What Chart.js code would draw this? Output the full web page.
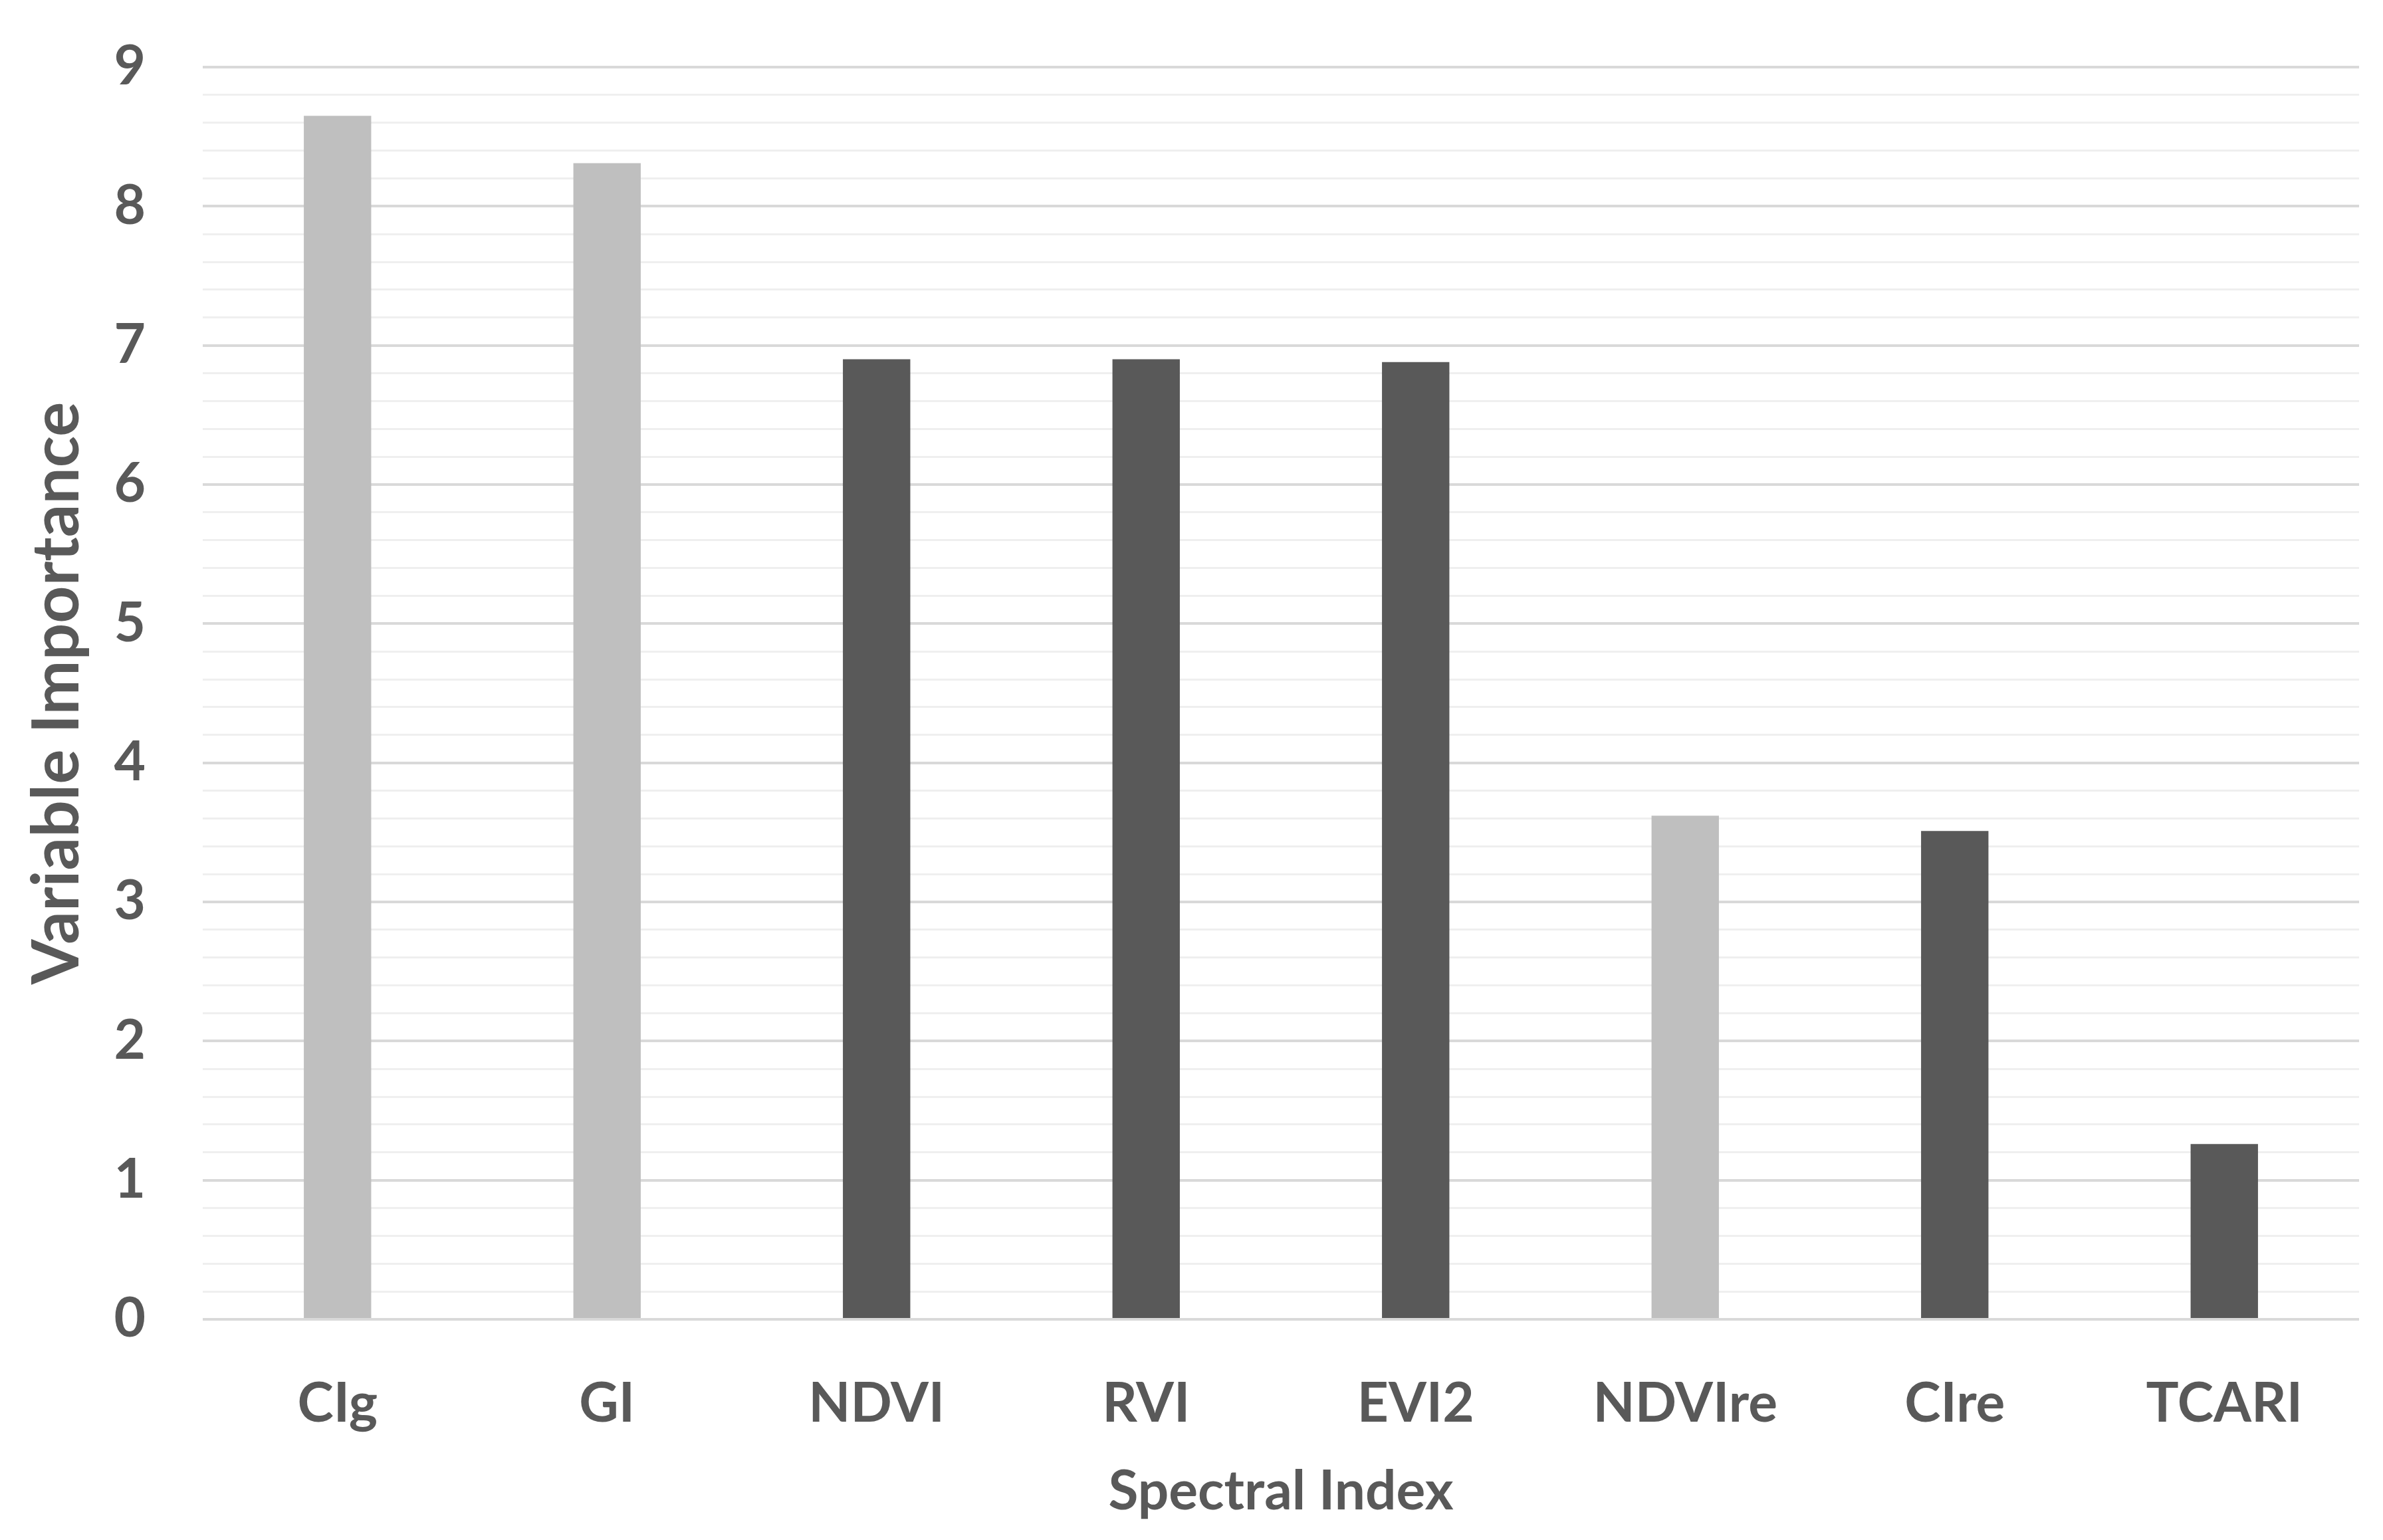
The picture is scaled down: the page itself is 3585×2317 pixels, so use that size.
<!DOCTYPE html>
<html>
<head>
<meta charset="utf-8">
<script src="https://cdn.jsdelivr.net/npm/chart.js@4.4.1/dist/chart.umd.min.js"></script>
<style>
  html, body { margin: 0; padding: 0; background: #fff; }
  #wrap { width: 3585px; height: 2317px; }
</style>
</head>
<body>
<div id="wrap"><canvas id="myChart"></canvas></div>
<script>
// values
const categories = ['CIg', 'GI', 'NDVI', 'RVI', 'EVI2', 'NDVIre', 'CIre', 'TCARI'];
const importance = [8.65, 8.31, 6.90, 6.90, 6.88, 3.62, 3.51, 1.26];
const yTickLabels = ['0', '1', '2', '3', '4', '5', '6', '7', '8', '9'];

const LIGHT = '#bfbfbf';
const DARK = '#595959';
const barColors = [LIGHT, LIGHT, DARK, DARK, DARK, LIGHT, DARK, DARK];

const ctx = document.getElementById('myChart');

Chart.defaults.font.family = "Lato, 'Open Sans', sans-serif";
Chart.defaults.font.weight = 'bold';
Chart.defaults.color = '#595959';

// integer ticks get the darker gridline and a label
const isMajor = v => Number.isInteger(Math.round(v * 1000) / 1000);

new Chart(ctx, {
    type: 'bar',
    data: {
        labels: categories,
        datasets: [{
            label: 'Variable Importance',
            data: importance,
            backgroundColor: barColors,
            borderWidth: 0,
            categoryPercentage: 1,
            barPercentage: 0.25
        }]
    },
    options: {
        responsive: true,
        maintainAspectRatio: false,
        animation: false,
        layout: {
            padding: { left: 0, top: 0, right: 36, bottom: 0 }
        },
        plugins: {
            legend: { display: false },
            tooltip: { enabled: false }
        },
        scales: {
            x: {
                grid: { display: false },
                border: { display: false },
                ticks: {
                    font: { size: 82 },
                    padding: 70,
                    maxRotation: 0
                },
                title: {
                    display: true,
                    text: 'Spectral Index',
                    font: { size: 82 },
                    padding: { top: 0, bottom: 23 }
                },
                afterFit: s => { s.height = 2317 - 1985; }
            },
            y: {
                min: 0,
                max: 9,
                border: { display: false },
                grid: {
                    drawTicks: false,
                    color: c => isMajor(c.tick.value) ? '#d9d9d9' : '#efefef',
                    lineWidth: c => isMajor(c.tick.value) ? 4 : 3
                },
                ticks: {
                    stepSize: 0.2,
                    autoSkip: false,
                    font: { size: 82 },
                    padding: 86,
                    callback: v => isMajor(v) ? yTickLabels[Math.round(v)] : ''
                },
                title: {
                    display: true,
                    text: 'Variable Importance',
                    font: { size: 98 },
                    padding: { top: 28, bottom: 0 }
                },
                afterFit: s => {
                    s.width = 305;
                    s.paddingTop = 101;
                }
            }
        }
    }
});
</script>
</body>
</html>
